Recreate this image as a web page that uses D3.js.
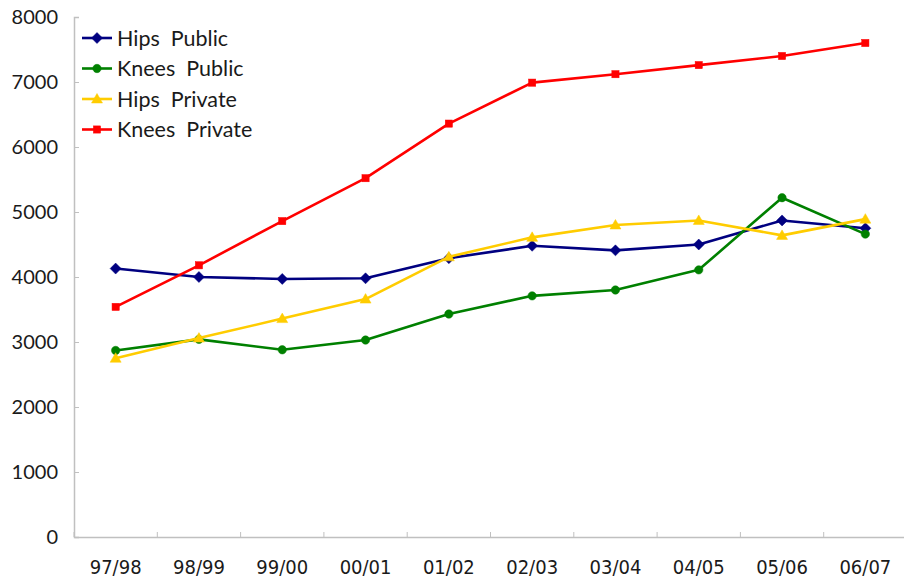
<!DOCTYPE html>
<html><head><meta charset="utf-8">
<script src="https://cdn.jsdelivr.net/npm/d3@7"></script>
<style>
body{margin:0;background:#fff;}
svg{display:block;}
text{fill:#1a1a1a;}
</style></head>
<body>
<svg id="chart" width="904" height="584"></svg>
<script>
const categories = ["97/98","98/99","99/00","00/01","01/02","02/03","03/04","04/05","05/06","06/07"];
const hipsPublic   = [4130,4000,3970,3980,4290,4480,4410,4500,4870,4750];
const kneesPublic  = [2870,3040,2880,3030,3430,3710,3800,4110,5220,4660];
const hipsPrivate  = [2750,3060,3360,3660,4310,4610,4800,4870,4640,4890];
const kneesPrivate = [3540,4180,4860,5520,6360,6990,7120,7260,7400,7600];
const seriesNames  = ["Hips  Public","Knees  Public","Hips  Private","Knees  Private"];
const seriesColors = ["#000080","#008000","#FFCC00","#FF0000"];
const seriesShapes = ["diamond","circle","triangle","square"];
const yTicks = [0,1000,2000,3000,4000,5000,6000,7000,8000];

const series = [hipsPublic,kneesPublic,hipsPrivate,kneesPrivate].map((v,i)=>({
  name:seriesNames[i], color:seriesColors[i], shape:seriesShapes[i], values:v}));

const svg = d3.select("#chart");
const m = {left:74, top:17, bottom:537, right:907};

const x = d3.scaleBand().domain(categories).range([m.left,m.right]);
const y = d3.scaleLinear().domain([0,8000]).range([m.bottom,m.top]);

const axisColor = "#c0c0c0";

// Y axis
const yAxis = svg.append("g").attr("transform",`translate(${m.left},0)`)
  .call(d3.axisLeft(y).tickValues(yTicks).tickSize(-5).tickPadding(16).tickFormat(d3.format("d")));
yAxis.select(".domain").attr("stroke",axisColor).attr("stroke-width",1.5);
yAxis.selectAll(".tick line").attr("stroke",axisColor);
yAxis.selectAll("text").attr("font-family","Lato, 'DejaVu Sans', sans-serif").attr("font-size",20).attr("fill","#1a1a1a");

// X axis
const xAxis = svg.append("g").attr("transform",`translate(0,${m.bottom})`)
  .call(d3.axisBottom(x).tickSize(0).tickPadding(23));
xAxis.select(".domain").attr("stroke",axisColor).attr("stroke-width",1.5);
xAxis.selectAll("text").attr("font-family","'Liberation Sans Narrow', 'DejaVu Sans Condensed', sans-serif").attr("font-size",20).attr("fill","#1a1a1a");
// boundary ticks
const bounds = categories.map((c,i)=> x(c)).concat([x(categories[categories.length-1])+x.bandwidth()]);
svg.append("g").selectAll("line").data(bounds).join("line")
  .attr("x1",d=>d).attr("x2",d=>d).attr("y1",m.bottom).attr("y2",m.bottom-5)
  .attr("stroke",axisColor);

const cx = c => x(c)+x.bandwidth()/2;

function marker(sel, shape, color){
  let p;
  if(shape==="diamond") p = sel.append("path").attr("d","M0,-5.5L5.5,0L0,5.5L-5.5,0Z");
  else if(shape==="circle") p = sel.append("circle").attr("r",4.2);
  else if(shape==="triangle") p = sel.append("path").attr("d","M0,-5.5L5.5,4L-5.5,4Z");
  else p = sel.append("rect").attr("x",-3.6).attr("y",-3.6).attr("width",7.2).attr("height",7.2);
  p.attr("fill",color).attr("stroke",color).attr("stroke-width",0.5);
}

const line = d3.line().x((d,i)=>cx(categories[i])).y(d=>y(d));

series.forEach(s=>{
  svg.append("path").datum(s.values).attr("d",line).attr("fill","none")
    .attr("stroke",s.color).attr("stroke-width",2.6).attr("stroke-linejoin","round");
  s.values.forEach((v,i)=>{
    const g = svg.append("g").attr("transform",`translate(${cx(categories[i])},${y(v)})`);
    marker(g,s.shape,s.color);
  });
});

// Legend
const leg = svg.append("g");
series.forEach((s,i)=>{
  const ly = 38 + i*30.5;
  leg.append("line").attr("x1",82).attr("x2",112).attr("y1",ly).attr("y2",ly).attr("stroke",s.color).attr("stroke-width",2.6);
  const g = leg.append("g").attr("transform",`translate(97,${ly})`);
  marker(g,s.shape,s.color);
  leg.append("text").attr("x",117).attr("y",ly).attr("dy","0.35em")
    .attr("font-family","Lato, 'DejaVu Sans', sans-serif").attr("font-size",21.5)
    .style("white-space","pre").text(s.name);
});
</script>
</body></html>
